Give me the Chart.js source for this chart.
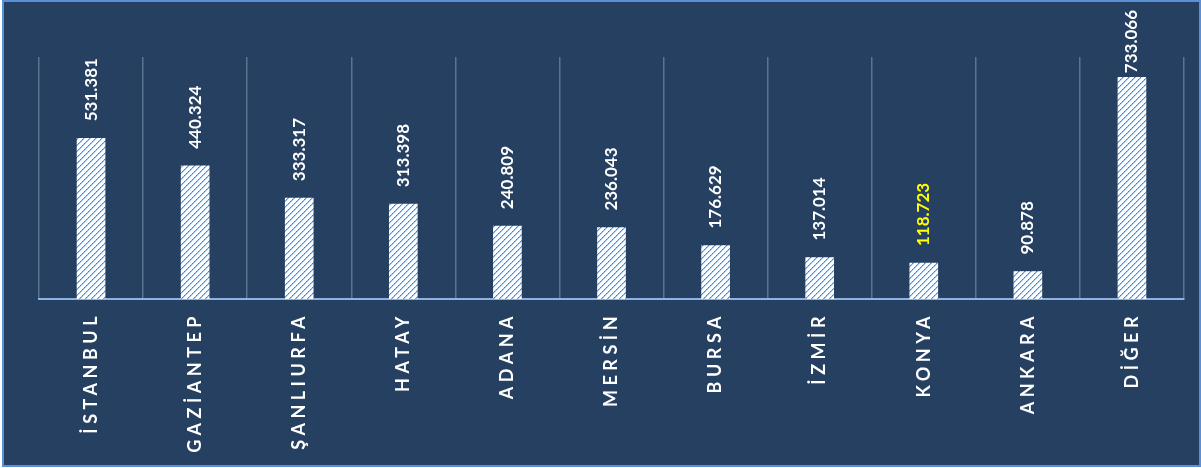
<!DOCTYPE html>
<html>
<head>
<meta charset="utf-8">
<script src="https://cdn.jsdelivr.net/npm/chart.js@4"></script>
<style>
  html, body { margin: 0; padding: 0; background: #fff; }
  #box {
    position: absolute; left: 2px; top: 0px;
    width: 1195px; height: 463px;
    border: 2px solid #5b8fd6;
    background: #264061;
  }
  canvas { display: block; }
</style>
</head>
<body>
<div id="box"><canvas id="chart" width="1195" height="463"></canvas></div>
<script>
const cities = ['İSTANBUL', 'GAZİANTEP', 'ŞANLIURFA', 'HATAY', 'ADANA', 'MERSİN', 'BURSA', 'İZMİR', 'KONYA', 'ANKARA', 'DİĞER'];
const counts = [531381, 440324, 333317, 313398, 240809, 236043, 176629, 137014, 118723, 90878, 733066];
const highlight = 'KONYA';

function fmt(n) {
    return String(n).replace(/\B(?=(\d{3})+(?!\d))/g, '.');
}

// white bar with blue "/" stripes
function makePattern(ctx) {
    const c = document.createElement('canvas');
    c.width = 6; c.height = 6;
    const p = c.getContext('2d');
    p.fillStyle = '#ffffff';
    p.fillRect(0, 0, 6, 6);
    for (let i = 0; i < 6; i++) {
        p.fillStyle = i % 2 ? '#6f9fe8' : '#3f7fe0';
        p.fillRect(i, 5 - i, 1, 1);
        p.fillStyle = '#a9c8f2';
        p.fillRect((i + 1) % 6, 5 - i, 1, 1);
    }
    return ctx.createPattern(c, 'repeat');
}

const spacing = {
    id: 'spacing',
    beforeDraw(chart) { chart.ctx.letterSpacing = '4.5px'; },
    beforeDatasetsDraw(chart) { chart.ctx.letterSpacing = '0px'; }
};

const valueLabels = {
    id: 'valueLabels',
    afterDatasetsDraw(chart) {
        const ctx = chart.ctx;
        chart.getDatasetMeta(0).data.forEach((bar, i) => {
            const text = fmt(counts[i]);
            ctx.save();
            ctx.font = 'bold 17px Lato';
            const w = ctx.measureText(text).width;
            // keep the label inside the frame, as the original does for the tallest bar
            const start = Math.max(bar.y - 17, 8 + w);
            ctx.translate(bar.x, start);
            ctx.rotate(-Math.PI / 2);
            ctx.textAlign = 'left';
            ctx.textBaseline = 'middle';
            ctx.fillStyle = cities[i] === highlight ? '#ffff00' : '#ffffff';
            ctx.fillText(text, 0, 0);
            ctx.restore();
        });
    }
};

const el = document.getElementById('chart');
const ctx = el.getContext('2d');

new Chart(el, {
    type: 'bar',
    data: {
        labels: cities,
        datasets: [{
            data: counts,
            backgroundColor: makePattern(ctx),
            borderWidth: 0,
            barThickness: 28
        }]
    },
    options: {
        responsive: false,
        animation: false,
        layout: { padding: { left: 35, right: 15, top: 55, bottom: 0 } },
        plugins: { legend: { display: false }, tooltip: { enabled: false } },
        scales: {
            x: {
                grid: { color: '#5d7190', lineWidth: 1.5, drawTicks: false, offset: true },
                border: { color: '#8db3e2', width: 2 },
                ticks: {
                    color: '#ffffff',
                    font: { family: 'Lato', size: 18, weight: 'bold' },
                    minRotation: 90, maxRotation: 90,
                    autoSkip: false,
                    padding: 13
                },
                afterFit(scale) { scale.height = 166; }
            },
            y: {
                display: false,
                min: 0,
                max: 800000
            }
        }
    },
    plugins: [spacing, valueLabels]
});
</script>
</body>
</html>
